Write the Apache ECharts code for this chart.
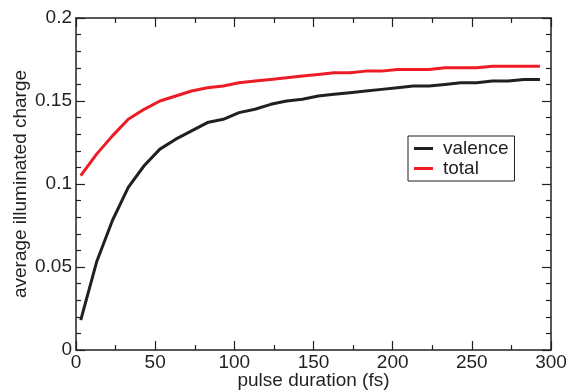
<!DOCTYPE html>
<html><head><meta charset="utf-8">
<script src="https://cdn.jsdelivr.net/npm/echarts@6/dist/echarts.min.js"></script>
<style>html,body{margin:0;padding:0;background:#fff}#c{width:568px;height:392px}</style>
</head><body><div id="c"></div>
<script>
var pulse = [3,13,23,33,43,53,63,73,83,93,103,113,123,133,143,153,163,173,183,193,203,213,223,233,243,253,263,273,283,293];
var valence = [0.018,0.053,0.078,0.098,0.111,0.121,0.127,0.132,0.137,0.139,0.143,0.145,0.148,0.150,0.151,0.153,0.154,0.155,0.156,0.157,0.158,0.159,0.159,0.160,0.161,0.161,0.162,0.162,0.163,0.163];
var total = [0.105,0.118,0.129,0.139,0.145,0.150,0.153,0.156,0.158,0.159,0.161,0.162,0.163,0.164,0.165,0.166,0.167,0.167,0.168,0.168,0.169,0.169,0.169,0.170,0.170,0.170,0.171,0.171,0.171,0.171];
var xTicks = [0,50,100,150,200,250,300];
var yTicks = [0,0.05,0.1,0.15,0.2];

function pairs(xs, ys){ return xs.map(function(x,i){ return [x, ys[i]]; }); }
var FONT = 'Liberation Sans, Arial, sans-serif';
var TXT = '#231f20';
var axLine = {show:true, onZero:false, lineStyle:{color:'#231f20', width:1.5}};
var tick = {show:true, inside:true, length:9, lineStyle:{color:'#231f20', width:1.2}};
function minor(n){ return {show:true, splitNumber:n, length:5, lineStyle:{color:'#231f20', width:1.2}}; }

var chart = echarts.init(document.getElementById('c'));
chart.setOption({
  animation:false,
  backgroundColor:'#fff',
  grid:{left:76, top:18, right:17, bottom:42, containLabel:false, outerBoundsMode:'none'},
  legend:{
    orient:'vertical', left:408, top:136,
    backgroundColor:'#fff', borderColor:'#231f20', borderWidth:1, borderRadius:0,
    padding:[3,6,3,6], itemGap:1, itemWidth:19, itemHeight:3,
    textStyle:{fontFamily:FONT, fontSize:19, color:TXT, padding:[0,0,0,5]},
    icon:'rect',
    data:['valence','total']
  },
  xAxis:[{
    type:'value', min:xTicks[0], max:xTicks[xTicks.length-1], interval:50,
    name:'pulse duration (fs)', nameLocation:'middle', nameGap:21, nameMoveOverlap:false,
    nameTextStyle:{fontFamily:FONT, fontSize:19, color:TXT},
    axisLine:axLine, axisTick:tick, minorTick:minor(2),
    axisLabel:{fontFamily:FONT, fontSize:19, color:TXT, margin:3},
    splitLine:{show:false}
  },{
    type:'value', position:'top', min:xTicks[0], max:xTicks[xTicks.length-1], interval:50,
    axisLine:axLine, axisTick:tick, minorTick:minor(2),
    axisLabel:{show:false}, splitLine:{show:false}
  }],
  yAxis:[{
    type:'value', min:yTicks[0], max:yTicks[yTicks.length-1], interval:0.05,
    name:'average illuminated charge', nameLocation:'middle', nameGap:46, nameMoveOverlap:false,
    nameTextStyle:{fontFamily:FONT, fontSize:19, color:TXT},
    axisLine:axLine, axisTick:tick, minorTick:minor(5),
    axisLabel:{fontFamily:FONT, fontSize:19, color:TXT, margin:4,
      formatter:function(v){ return String(parseFloat(v.toFixed(2))); }},
    splitLine:{show:false}
  },{
    type:'value', position:'right', min:yTicks[0], max:yTicks[yTicks.length-1], interval:0.05,
    axisLine:axLine, axisTick:tick, minorTick:minor(5),
    axisLabel:{show:false}, splitLine:{show:false}
  }],
  series:[
    {name:'valence', type:'line', xAxisIndex:0, yAxisIndex:0, data:pairs(pulse, valence), showSymbol:false, symbol:'none',
     lineStyle:{color:'#231f20', width:3}, itemStyle:{color:'#231f20'}},
    {name:'total', type:'line', xAxisIndex:0, yAxisIndex:0, data:pairs(pulse, total), showSymbol:false, symbol:'none',
     lineStyle:{color:'#ed1c24', width:3}, itemStyle:{color:'#ed1c24'}}
  ]
});
</script></body></html>
